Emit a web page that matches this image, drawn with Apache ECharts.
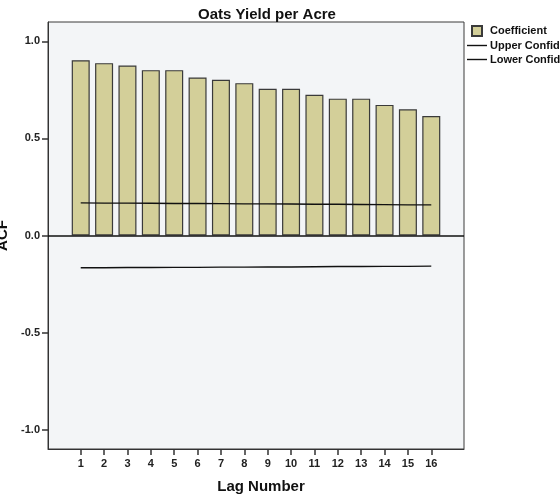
<!DOCTYPE html>
<html>
<head>
<meta charset="utf-8">
<script src="https://cdn.jsdelivr.net/npm/echarts@6/dist/echarts.min.js"></script>
<style>
  html, body { margin: 0; padding: 0; background: #fff; }
  #main { width: 560px; height: 504px; }
</style>
</head>
<body>
<div id="main"></div>
<script>
// ACF of oats yield
var lags = [1, 2, 3, 4, 5, 6, 7, 8, 9, 10, 11, 12, 13, 14, 15, 16];
var coefficient = [0.903, 0.888, 0.876, 0.852, 0.852, 0.814, 0.802, 0.785,
                   0.756, 0.756, 0.725, 0.705, 0.705, 0.673, 0.650, 0.616];
var upperLimit = [0.168, 0.167, 0.167, 0.166, 0.165, 0.165, 0.164, 0.163,
                  0.163, 0.162, 0.161, 0.161, 0.160, 0.159, 0.158, 0.158];
var lowerLimit = [-0.166, -0.166, -0.165, -0.165, -0.164, -0.164, -0.163, -0.163,
                  -0.162, -0.162, -0.161, -0.160, -0.160, -0.159, -0.159, -0.158];
var yTicks = [-1, -0.5, 0, 0.5, 1];

var font = 'Liberation Sans';
var myChart = echarts.init(document.getElementById('main'));

function pairs(vals) {
    var out = [];
    for (var i = 0; i < lags.length; i++) {
        out.push([lags[i], vals[i]]);
    }
    return out;
}

var option = {
    animation: false,
    backgroundColor: '#ffffff',
    title: {
        text: 'Oats Yield per Acre',
        left: 262,
        top: 2,
        textAlign: 'center',
        textStyle: { fontFamily: font, fontSize: 15, fontWeight: 'bold', color: '#111' }
    },
    legend: {
        orient: 'vertical',
        left: 467,
        top: 25,
        padding: 0,
        itemWidth: 20,
        itemHeight: 10,
        itemGap: 3,
        selectedMode: false,
        textStyle: { fontFamily: font, fontSize: 11, fontWeight: 'bold', color: '#111', padding: [0, 0, 0, -2] },
        data: [
            { name: 'Coefficient', icon: 'path://M0,0H10V10H0Z' },
            { name: 'Upper Confidence Limit', icon: 'path://M0,0H20V1.4H0Z' },
            { name: 'Lower Confidence Limit', icon: 'path://M0,0H20V1.4H0Z' }
        ]
    },
    grid: {
        left: 48, top: 22, right: 96, bottom: 55,
        outerBoundsMode: 'none',
        containLabel: false,
        show: true,
        backgroundColor: '#f3f5f7',
        borderColor: '#3a3a3a',
        borderWidth: 1
    },
    xAxis: {
        type: 'value',
        min: -0.4,
        max: 17.4,
        name: 'Lag Number',
        nameLocation: 'middle',
        nameGap: 30,
        nameTextStyle: { fontFamily: font, fontSize: 15, fontWeight: 'bold', color: '#111', padding: [0, 0, 0, 10] },
        axisLine: { show: true, onZero: false, lineStyle: { color: '#333' } },
        axisTick: { show: true, length: 6, customValues: lags, lineStyle: { color: '#333', width: 1.5 } },
        axisLabel: {
            customValues: lags,
            margin: 9,
            fontFamily: font, fontSize: 11, fontWeight: 'bold', color: '#222'
        },
        splitLine: { show: false }
    },
    yAxis: {
        type: 'value',
        min: -1.1,
        max: 1.1,
        name: 'ACF',
        nameLocation: 'middle',
        nameRotate: 90,
        nameGap: 33,
        nameTextStyle: { fontFamily: font, fontSize: 15, fontWeight: 'bold', color: '#111' },
        axisLine: { show: true, onZero: false, lineStyle: { color: '#333' } },
        axisTick: { show: true, length: 6, customValues: yTicks, lineStyle: { color: '#333', width: 1.5 } },
        axisLabel: {
            customValues: yTicks,
            margin: 8,
            fontFamily: font, fontSize: 11, fontWeight: 'bold', color: '#222',
            formatter: function (v) { return v.toFixed(1); }
        },
        splitLine: { show: false }
    },
    series: [
        {
            name: 'Coefficient',
            type: 'bar',
            barWidth: 18,
            data: pairs(coefficient),
            itemStyle: { color: '#d3cf99', borderColor: '#3a3a3a', borderWidth: 1.2 },
            markLine: {
                silent: true,
                symbol: 'none',
                label: { show: false },
                lineStyle: { color: '#111', width: 1.6, type: 'solid' },
                data: [{ yAxis: 0 }]
            },
            z: 2
        },
        {
            name: 'Upper Confidence Limit',
            type: 'line',
            data: pairs(upperLimit),
            symbol: 'none',
            itemStyle: { color: '#111' },
            lineStyle: { color: '#111', width: 1.4 },
            z: 3
        },
        {
            name: 'Lower Confidence Limit',
            type: 'line',
            data: pairs(lowerLimit),
            symbol: 'none',
            itemStyle: { color: '#111' },
            lineStyle: { color: '#111', width: 1.4 },
            z: 3
        }
    ]
};

myChart.setOption(option);
</script>
</body>
</html>
